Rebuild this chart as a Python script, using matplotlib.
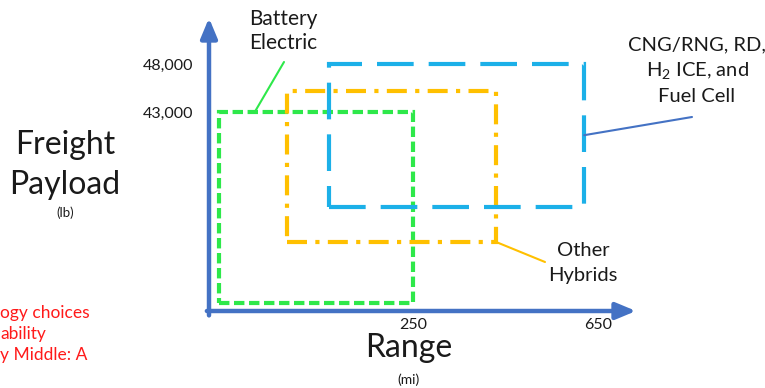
import numpy as np
import matplotlib
matplotlib.use("Agg")
import matplotlib.pyplot as plt
from matplotlib.patches import Rectangle

plt.rcParams['font.family'] = ['Lato', 'DejaVu Sans']

# Conceptual operating envelopes: range (mi) x payload (lb)
techs = ["Battery Electric", "Other Hybrids", "CNG/RNG, RD, H2 ICE, and Fuel Cell"]
range_lo = [12, 96, 147]
range_hi = [250, 430, 620]
payload_lo = [1700, 14900, 22500]
payload_hi = [43000, 45200, 48000]
colors = ["#2EE84A", "#FFC000", "#1CB0E8"]
styles = [(0, (2.5, 1.1)), (0, (4.8, 2.0, 1.0, 2.0)), (0, (8.8, 3.6))]

x_ticks = [250, 650]
x_ticklabels = ["250", "650"]
y_ticks = [43000, 48000]
y_ticklabels = ["43,000", "48,000"]

# the sketch is not to scale: piecewise-linear axes
x_pts = [0, 250, 650, 800]
x_px = [0, 204, 389, 458.4]
y_pts = [0, 43000, 48000, 60000]
y_px = [0, 199, 247, 362.2]

fig = plt.figure(figsize=(7.65, 3.88), dpi=100)
W, H = 765, 388
ax = fig.add_axes([209 / W, 77 / H, 427 / W, 293 / H])
ax.set_xscale('function', functions=(lambda v: np.interp(v, x_pts, x_px),
                                      lambda v: np.interp(v, x_px, x_pts)))
ax.set_yscale('function', functions=(lambda v: np.interp(v, y_pts, y_px),
                                      lambda v: np.interp(v, y_px, y_pts)))
ax.set_xlim(0, 732)
ax.set_ylim(0, 52800)
for s in ax.spines.values():
    s.set_visible(False)

for i in range(len(techs)):
    ax.add_patch(Rectangle((range_lo[i], payload_lo[i]), range_hi[i] - range_lo[i],
                           payload_hi[i] - payload_lo[i], fill=False,
                           edgecolor=colors[i], lw=3, linestyle=styles[i], zorder=3))

# axis arrows
axis_blue = "#4472C4"
ax.annotate("", xy=(1.0, 0), xytext=(-0.005, 0), xycoords='axes fraction',
            arrowprops=dict(arrowstyle="-|>,head_length=1.2,head_width=0.5",
                            color=axis_blue, lw=3.2, shrinkA=0, shrinkB=0),
            annotation_clip=False)
ax.annotate("", xy=(0, 1.0), xytext=(0, -0.015), xycoords='axes fraction',
            arrowprops=dict(arrowstyle="-|>,head_length=1.2,head_width=0.5",
                            color=axis_blue, lw=3.2, shrinkA=0, shrinkB=0),
            annotation_clip=False)

ax.set_xticks(x_ticks)
ax.set_xticklabels(x_ticklabels)
ax.set_yticks(y_ticks)
ax.set_yticklabels(y_ticklabels)
ax.tick_params(length=0, labelsize=11.5, colors="#1a1a1a")
ax.tick_params(axis='x', pad=5)
ax.tick_params(axis='y', pad=11)

# leader lines
ax.annotate("", xy=(56, 43000), xytext=(284, H - 62), textcoords='figure pixels',
            arrowprops=dict(arrowstyle="-", color=colors[0], lw=1.5, shrinkA=0, shrinkB=0))
ax.annotate("", xy=(430, payload_lo[1]), xytext=(545, H - 262), textcoords='figure pixels',
            arrowprops=dict(arrowstyle="-", color=colors[1], lw=1.5, shrinkA=0, shrinkB=0))
ax.annotate("", xy=(620, 38000), xytext=(692, H - 117), textcoords='figure pixels',
            arrowprops=dict(arrowstyle="-", color=axis_blue, lw=1.5, shrinkA=0, shrinkB=0))

txt = "#1a1a1a"
fig.text(283 / W, (H - 31) / H, "Battery\nElectric", ha='center', va='center',
         fontsize=15, color=txt, linespacing=1.3)
fig.text(697 / W, (H - 71) / H, "CNG/RNG, RD,\nH$_\\mathregular{2}$ ICE, and\nFuel Cell",
         ha='center', va='center', fontsize=14.5, color=txt, linespacing=1.45)
fig.text(583 / W, (H - 263) / H, "Other\nHybrids", ha='center', va='center',
         fontsize=14.5, color=txt, linespacing=1.5)
fig.text(65 / W, (H - 165) / H, "Freight\nPayload", ha='center', va='center',
         fontsize=23, color=txt, linespacing=1.45)
fig.text(65 / W, (H - 213) / H, "(lb)", ha='center', va='center', fontsize=9.5, color=txt)
fig.text(409 / W, (H - 348) / H, "Range", ha='center', va='center', fontsize=23, color=txt)
fig.text(408 / W, (H - 380) / H, "(mi)", ha='center', va='center', fontsize=10, color=txt)

fig.text(0, (H - 334) / H, "ogy choices\nability\ny Middle: A", ha='left', va='center',
         fontsize=12.5, color="#FF1A1A", linespacing=1.35)

fig.savefig("out.png", dpi=100)
